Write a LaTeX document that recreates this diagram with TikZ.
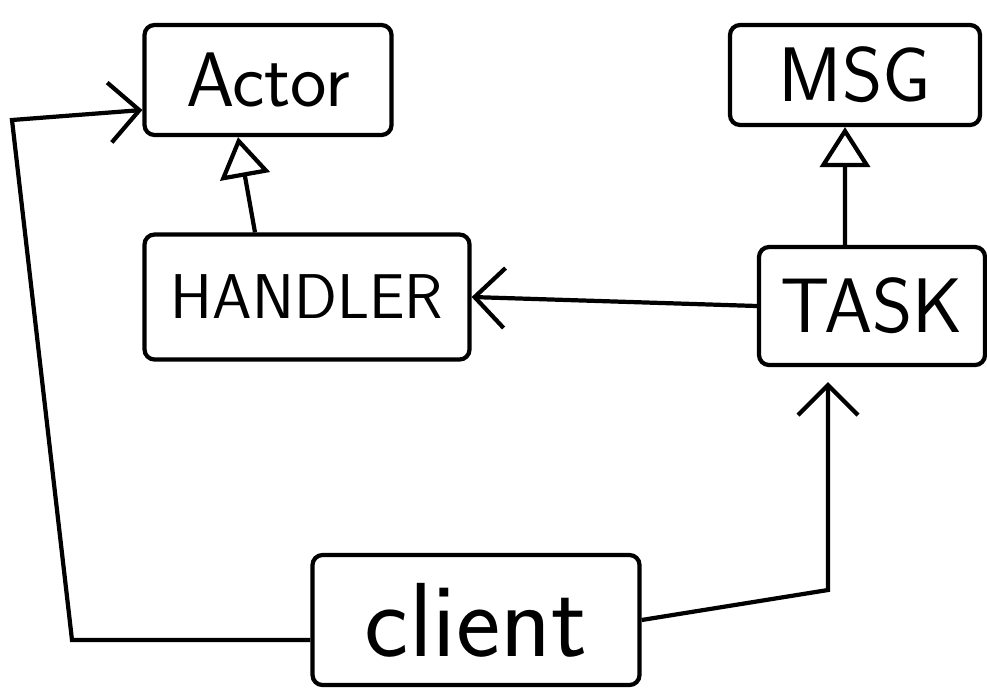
\documentclass[tikz,border=0pt]{standalone}
\usetikzlibrary{arrows.meta}
\tikzset{>={Straight Barb[length=3mm,width=6mm]}}

\begin{document}
\begin{tikzpicture}[x=0.1mm, y=-0.1mm, line width=1.2pt,
  box/.style={draw, rounded corners=1mm, inner sep=0pt,
    font=\sffamily\fontsize{22}{26}\selectfont},
  isa/.style={-{Triangle[open,length=4mm,width=5mm]}}]
\useasboundingbox (0,0) rectangle (987,692);
% classes
\node[box, minimum width=24.7mm, minimum height=11mm] (actor) at (268,80) {Actor};
\node[box, minimum width=25mm, minimum height=10mm] (msg) at (855,75) {MSG};
\node[box, minimum width=32.5mm, minimum height=12.5mm,
  font=\sffamily\fontsize{18}{22}\selectfont] (handler) at (307,297) {HANDLER};
\node[box, minimum width=22.6mm, minimum height=11.8mm] (task) at (872,306) {TASK};
\node[box, minimum width=32.7mm, minimum height=13mm,
  font=\sffamily\fontsize{30}{34}\selectfont] (client) at (476,620) {client};
\coordinate (bend1) at (828,590);
\coordinate (bend2) at (72,640);
\coordinate (bend3) at (12,120);
% inheritance
\draw[isa] ([xshift=-5.2mm]handler.north) -- ([xshift=-3mm]actor.south);
\draw[isa] ([xshift=-2.7mm]task.north) -- ([xshift=-1mm]msg.south);
% uses
\draw[->] (task.west) -- (handler.east);
\draw[->, shorten >=1.5mm] (client.east) -- (bend1) -- (bend1 |- task.south);
\draw[->] ([yshift=-2mm]client.west) -- (bend2) -- (bend3) -- ([yshift=-3mm]actor.west);
\end{tikzpicture}
\end{document}
